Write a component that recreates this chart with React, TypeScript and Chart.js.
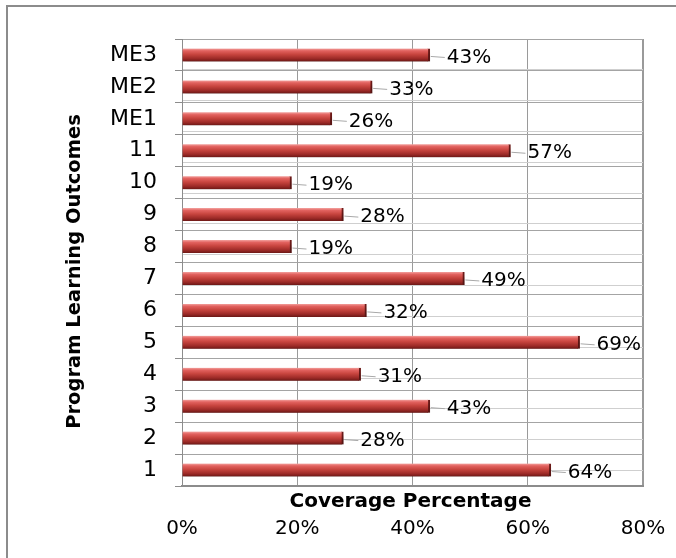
import { useEffect, useRef } from 'react';
import { Chart, registerables } from 'chart.js';

Chart.register(...registerables);

// Program learning outcomes, bottom to top
const outcomes = ['1', '2', '3', '4', '5', '6', '7', '8', '9', '10', '11', 'ME1', 'ME2', 'ME3'];
// Coverage of each outcome, in percent
const coverage = [64, 28, 43, 31, 69, 32, 49, 19, 28, 19, 57, 26, 33, 43];
// Percentage axis
const xTickValues = [0, 20, 40, 60, 80];

const X_TITLE = 'Coverage Percentage';
const Y_TITLE = 'Program Learning Outcomes';

const FONT = '"DejaVu Sans", "Open Sans", sans-serif';
const BAR = 13;

// Soft drop shadow under the bars
const barShadow = {
  id: 'barShadow',
  beforeDatasetDraw(chart: any) {
    const ctx = chart.ctx;
    ctx.save();
    ctx.shadowColor = 'rgba(0,0,0,0.30)';
    ctx.shadowBlur = 5;
    ctx.shadowOffsetX = 2;
    ctx.shadowOffsetY = 5;
  },
  afterDatasetDraw(chart: any) {
    chart.ctx.restore();
  },
};

// Percentage labels with short leader lines, plus both axis titles
const captions = {
  id: 'captions',
  afterDatasetsDraw(chart: any) {
    const ctx = chart.ctx;
    const meta = chart.getDatasetMeta(0);
    const values = chart.data.datasets[0].data as number[];
    ctx.save();
    ctx.font = `20px ${FONT}`;
    ctx.textAlign = 'left';
    ctx.textBaseline = 'middle';
    meta.data.forEach((el: any, i: number) => {
      const y = el.y;
      ctx.strokeStyle = '#a8a8a8';
      ctx.lineWidth = 1;
      ctx.beginPath();
      ctx.moveTo(el.x + 1, y + 1.5);
      ctx.lineTo(el.x + 15, y + 2.5);
      ctx.stroke();
      ctx.fillStyle = '#000';
      ctx.fillText(`${values[i]}%`, el.x + 17, y + 2.5);
    });
    ctx.restore();
  },
  afterDraw(chart: any) {
    const { ctx, chartArea: a } = chart;
    ctx.save();
    ctx.fillStyle = '#000';
    ctx.font = `bold 20px ${FONT}`;
    ctx.textAlign = 'center';
    ctx.textBaseline = 'middle';
    ctx.fillText(X_TITLE, (a.left + a.right) / 2 - 2, a.bottom + 16);
    ctx.font = `bold 19.5px ${FONT}`;
    ctx.translate(a.left - 107, (a.top + a.bottom) / 2 + 9);
    ctx.rotate(-Math.PI / 2);
    ctx.fillText(Y_TITLE, 0, 0);
    ctx.restore();
  },
};

function barFill(c: any) {
  const chart = c.chart;
  const y = chart.scales && chart.scales.y;
  if (!y || c.dataIndex === undefined) return '#c0504d';
  const cy = y.getPixelForValue(c.dataIndex);
  if (!Number.isFinite(cy)) return '#c0504d';
  const g = chart.ctx.createLinearGradient(0, cy - BAR / 2, 0, cy + BAR / 2);
  g.addColorStop(0, '#f3a19e');
  g.addColorStop(0.18, '#e2625f');
  g.addColorStop(0.45, '#c8453f');
  g.addColorStop(0.78, '#9c2a27');
  g.addColorStop(1, '#6c1816');
  return g;
}

export default function App() {
  const canvasRef = useRef<HTMLCanvasElement | null>(null);

  useEffect(() => {
    const canvas = canvasRef.current;
    if (!canvas) return;
    const chart = new Chart(canvas, {
      type: 'bar',
      data: {
        labels: outcomes,
        datasets: [
          {
            data: coverage,
            backgroundColor: barFill,
            borderColor: '#6e1a18',
            borderWidth: { top: 0, right: 2, bottom: 0, left: 0 },
            borderSkipped: 'start',
            barThickness: BAR,
          },
        ],
      },
      plugins: [barShadow, captions],
      options: {
        indexAxis: 'y',
        responsive: false,
        animation: false,
        devicePixelRatio: 1,
        layout: { padding: { top: 39, right: 33, left: 0, bottom: 0 } },
        plugins: {
          legend: { display: false },
          tooltip: { enabled: false },
        },
        scales: {
          x: {
            type: 'linear',
            min: xTickValues[0],
            max: xTickValues[xTickValues.length - 1],
            afterBuildTicks: (s: any) => {
              s.ticks = xTickValues.map((v) => ({ value: v }));
            },
            afterFit: (s: any) => {
              s.height = 72;
            },
            ticks: {
              padding: 0,
              color: '#000',
              font: { family: FONT, size: 20 },
              callback: (v: any) => `${v}%`,
            },
            grid: {
              color: '#9a9a9a',
              lineWidth: (c: any) => (c.tick && c.tick.value === 80 ? 2 : 1),
              drawTicks: true,
              tickLength: 31,
              tickColor: 'rgba(0,0,0,0)',
            },
            border: { color: '#8c8c8c', width: 2 },
          },
          y: {
            type: 'category',
            reverse: true,
            afterFit: (s: any) => {
              s.width = 182;
            },
            ticks: {
              padding: 18,
              color: '#000',
              font: { family: FONT, size: 22 },
            },
            grid: {
              color: '#a4a4a4',
              tickColor: '#8c8c8c',
              tickLength: 7,
              offset: true,
            },
            border: { color: '#8c8c8c', width: 1 },
          },
          y2: {
            type: 'linear',
            position: 'right',
            min: 0,
            max: outcomes.length * 2,
            afterFit: (s: any) => {
              s.width = 0;
            },
            ticks: { display: false, stepSize: 1 },
            grid: {
              drawTicks: false,
              color: (c: any) =>
                c.tick && c.tick.value % 2 === 1 ? '#cfcfcf' : 'rgba(0,0,0,0)',
            },
            border: { display: false },
          },
        },
      },
    } as any);
    return () => chart.destroy();
  }, []);

  return (
    <div
      style={{
        position: 'fixed',
        left: 0,
        top: 0,
        width: 676,
        height: 558,
        overflow: 'hidden',
        background: '#fff',
      }}
    >
      <canvas
        ref={canvasRef}
        width={676}
        height={558}
        style={{ position: 'absolute', left: 0, top: 0, width: 676, height: 558 }}
      />
      <div
        style={{
          position: 'absolute',
          left: 6,
          top: 5,
          width: 720,
          height: 620,
          border: '2px solid #8c8c8c',
          boxSizing: 'border-box',
          pointerEvents: 'none',
        }}
      />
    </div>
  );
}
